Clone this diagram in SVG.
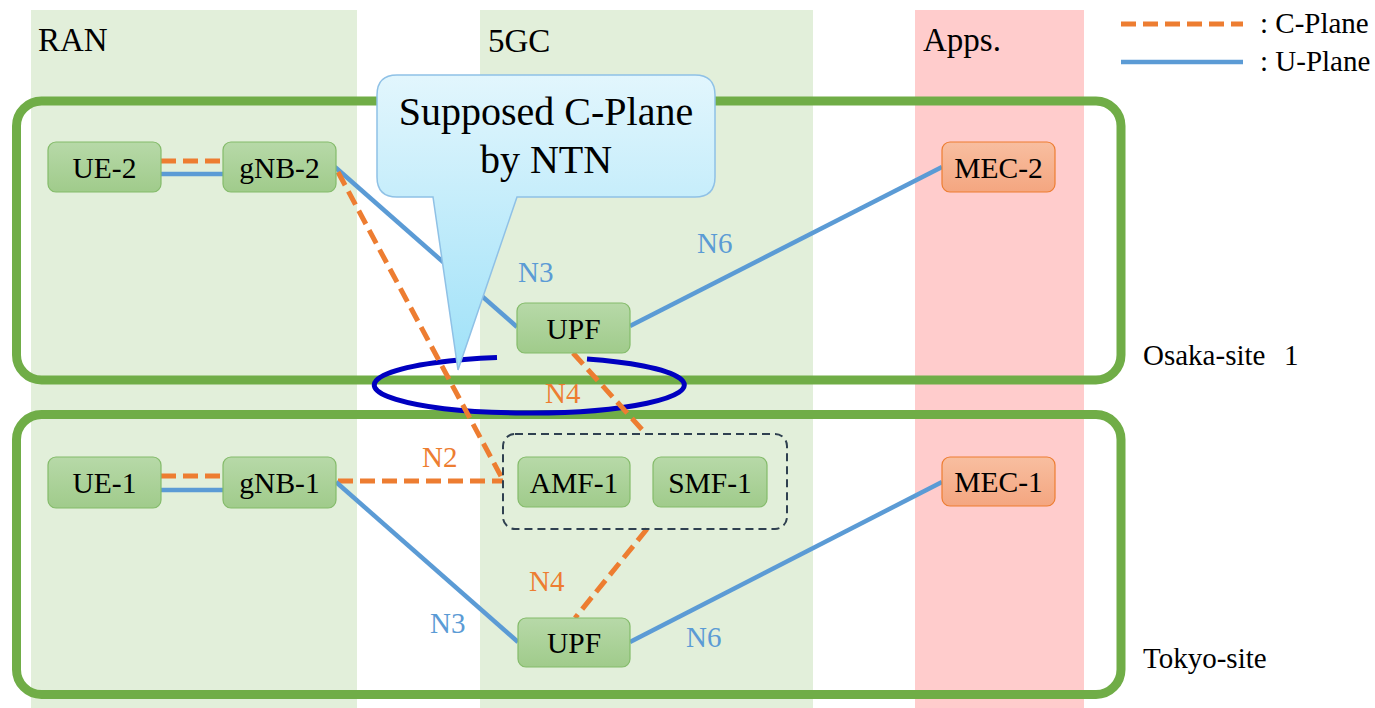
<svg xmlns="http://www.w3.org/2000/svg" width="1375" height="708" viewBox="0 0 1375 708">
  <style>
    .txt { font-family: "Liberation Serif", "Times New Roman", serif; fill: #000; }
    .hdr { font-size: 33px; }
    .lbl { font-size: 29.5px; text-anchor: middle; }
    .side { font-size: 29px; }
    .node { fill: url(#gNode); stroke: #84bb6a; stroke-width: 1.2; }
    .mec { fill: url(#gMec); stroke: #ed7d31; stroke-width: 1.2; }
    .site { fill: none; stroke: #70ad47; stroke-width: 9; }
    .u { stroke: #5b9bd5; stroke-width: 4.5; fill: none; }
    .c { stroke: #ed7d31; stroke-width: 5; fill: none; stroke-dasharray: 15 7; }
    .nu { fill: #5b9bd5; font-size: 29px; font-family: "Liberation Serif", "Times New Roman", serif; }
    .nc { fill: #ed7d31; font-size: 29px; font-family: "Liberation Serif", "Times New Roman", serif; }
  </style>
  <defs>
    <linearGradient id="gNode" x1="0" y1="0" x2="0" y2="1">
      <stop offset="0" stop-color="#b7d9a8"/>
      <stop offset="1" stop-color="#a0cb8b"/>
    </linearGradient>
    <linearGradient id="gMec" x1="0" y1="0" x2="0" y2="1">
      <stop offset="0" stop-color="#f8bea0"/>
      <stop offset="1" stop-color="#f4a680"/>
    </linearGradient>
    <linearGradient id="gCallout" x1="0" y1="0" x2="0" y2="1">
      <stop offset="0" stop-color="#e2f6fd"/>
      <stop offset="1" stop-color="#9fe1f8"/>
    </linearGradient>
  </defs>

  <rect width="1375" height="708" fill="#ffffff"/>

  <!-- domain columns -->
  <g id="columns">
    <rect x="31" y="10" width="326" height="698" fill="#e2efda"/>
    <rect x="480" y="10" width="333" height="698" fill="#e2efda"/>
    <rect x="915" y="10" width="169" height="698" fill="#ffcccc"/>
    <text class="txt hdr" x="38" y="51">RAN</text>
    <text class="txt hdr" x="488" y="52">5GC</text>
    <text class="txt hdr" x="923" y="51">Apps.</text>
  </g>

  <!-- sites -->
  <g id="sites">
    <rect class="site" x="16.5" y="101" width="1104.5" height="279" rx="25"/>
    <rect class="site" x="16.5" y="414.5" width="1104.5" height="280" rx="25"/>
    <text class="txt side" x="1143" y="365">Osaka-site<tspan x="1284">1</tspan></text>
    <text class="txt side" x="1143" y="668">Tokyo-site</text>
  </g>

  <!-- NTN link highlight -->
  <g id="ntn-ring">
    <path d="M587,359 A155,28 0 1 1 497,357.6" fill="none" stroke="#0000c0" stroke-width="5"/>
  </g>

  <!-- legend -->
  <g id="legend">
    <line class="c" x1="1121" y1="24" x2="1243" y2="24"/>
    <line class="u" x1="1121" y1="62" x2="1243" y2="62"/>
    <text class="txt side" x="1260" y="33">: C-Plane</text>
    <text class="txt side" x="1260" y="71">: U-Plane</text>
  </g>

  <!-- connectors -->
  <g id="connectors">
    <!-- Osaka site -->
    <line class="c" x1="161" y1="161" x2="223" y2="161"/>
    <line class="u" x1="161" y1="174" x2="223" y2="174"/>
    <line class="u" x1="335" y1="167" x2="517" y2="327"/>
    <line class="u" x1="630" y1="326" x2="942" y2="167"/>
    <line class="c" x1="338" y1="172" x2="503" y2="480"/>
    <line class="c" x1="573" y1="353" x2="646" y2="434"/>
    <!-- Tokyo site -->
    <line class="c" x1="161" y1="476" x2="223" y2="476"/>
    <line class="u" x1="161" y1="490" x2="223" y2="490"/>
    <line class="c" x1="338" y1="481" x2="503" y2="481"/>
    <line class="u" x1="336" y1="482" x2="518" y2="642"/>
    <line class="u" x1="630" y1="642" x2="942" y2="482"/>
    <line class="c" x1="647" y1="529" x2="575" y2="618"/>
    <!-- interface labels -->
    <text class="nu" x="518" y="282">N3</text>
    <text class="nu" x="697" y="253">N6</text>
    <text class="nc" x="545" y="403">N4</text>
    <text class="nc" x="422" y="467">N2</text>
    <text class="nu" x="430" y="633">N3</text>
    <text class="nc" x="529" y="591">N4</text>
    <text class="nu" x="686" y="647">N6</text>
  </g>

  <!-- control-plane function group -->
  <g id="cp-group">
    <rect x="503" y="434" width="284" height="95" rx="12" fill="none" stroke="#2f4050" stroke-width="2" stroke-dasharray="8 5"/>
  </g>

  <!-- nodes -->
  <g id="ue-2"><rect class="node" x="48" y="142" width="113" height="50" rx="8"/><text class="txt lbl" x="104.5" y="178">UE-2</text></g>
  <g id="gnb-2"><rect class="node" x="223" y="142" width="113" height="50" rx="8"/><text class="txt lbl" x="279.5" y="178">gNB-2</text></g>
  <g id="upf-2"><rect class="node" x="517" y="303" width="113" height="50" rx="8"/><text class="txt lbl" x="573.5" y="339">UPF</text></g>
  <g id="mec-2"><rect class="mec" x="942" y="142" width="113" height="50" rx="8"/><text class="txt lbl" x="998.5" y="178">MEC-2</text></g>

  <g id="ue-1"><rect class="node" x="48" y="457" width="113" height="51" rx="8"/><text class="txt lbl" x="104.5" y="493">UE-1</text></g>
  <g id="gnb-1"><rect class="node" x="223" y="457" width="113" height="51" rx="8"/><text class="txt lbl" x="279.5" y="493">gNB-1</text></g>
  <g id="amf-1"><rect class="node" x="518" y="457" width="112" height="50" rx="8"/><text class="txt lbl" x="574" y="493">AMF-1</text></g>
  <g id="smf-1"><rect class="node" x="653" y="457" width="114" height="50" rx="8"/><text class="txt lbl" x="710" y="493">SMF-1</text></g>
  <g id="upf-1"><rect class="node" x="518" y="618" width="112" height="49" rx="8"/><text class="txt lbl" x="574" y="653">UPF</text></g>
  <g id="mec-1"><rect class="mec" x="942" y="457" width="113" height="49" rx="8"/><text class="txt lbl" x="998.5" y="492">MEC-1</text></g>

  <!-- callout -->
  <g id="callout">
    <path d="M397,75 H695 Q715,75 715,95 V177 Q715,197 695,197 H517 L458,370 L433,197 H397 Q377,197 377,177 V95 Q377,75 397,75 Z" fill="url(#gCallout)" stroke="#8fc1e6" stroke-width="1.5"/>
    <text class="txt" x="546" y="125" font-size="40" text-anchor="middle">Supposed C-Plane</text>
    <text class="txt" x="546" y="173" font-size="40" text-anchor="middle">by NTN</text>
  </g>
</svg>
